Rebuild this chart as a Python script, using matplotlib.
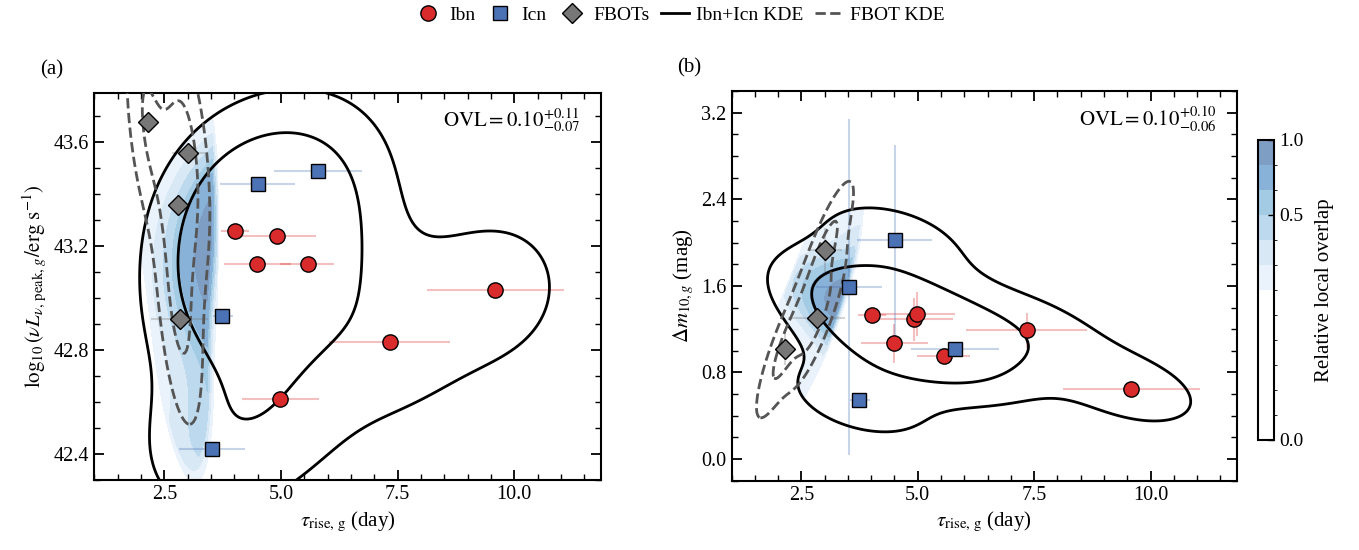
import numpy as np
import matplotlib
matplotlib.use("Agg")
import matplotlib.pyplot as plt
from matplotlib.colors import ListedColormap, BoundaryNorm
from matplotlib.lines import Line2D
from matplotlib.ticker import MultipleLocator

plt.rcParams['font.family'] = ['Liberation Serif', 'DejaVu Serif']
plt.rcParams['mathtext.fontset'] = 'stix'
plt.rcParams['font.size'] = 14

# ---- data ----
# Ibn
ibn_tau = [4.01, 4.92, 4.49, 5.57, 9.58, 7.34, 4.99]
ibn_tau_lo = [0.29, 0.81, 0.71, 0.58, 1.45, 1.30, 0.83]
ibn_tau_hi = [0.30, 0.84, 0.72, 0.56, 1.48, 1.29, 0.82]
ibn_lum = [43.26, 43.24, 43.13, 43.13, 43.03, 42.83, 42.61]
ibn_dm = [1.33, 1.29, 1.07, 0.95, 0.65, 1.19, 1.34]
ibn_dm_err = [0.05, 0.20, 0.18, 0.05, 0.03, 0.16, 0.20]

# Icn
icn_tau = [4.51, 5.79, 3.74, 3.52]
icn_tau_lo = [0.82, 0.93, 0.20, 0.71]
icn_tau_hi = [0.80, 0.95, 0.23, 0.72]
icn_lum = [43.44, 43.49, 42.93, 42.42]
icn_dm = [2.02, 1.02, 0.55, 1.59]
icn_dm_err = [0.88, 0.05, 0.03, 1.55]

# FBOTs (one object has no delta m10)
fbot_tau = [2.15, 3.00, 2.79, 2.83]
fbot_tau_lo = [0.05, 0.33, 0.10, 0.61]
fbot_tau_hi = [0.05, 0.37, 0.10, 0.60]
fbot_lum = [43.68, 43.56, 43.36, 42.92]
fbot_dm = [1.02, 1.93, np.nan, 1.30]
fbot_dm_err = [0.15, 0.20, np.nan, 0.10]

ovl_text = [r'$\mathrm{OVL} = 0.10^{+0.11}_{-0.07}$',
            r'$\mathrm{OVL} = 0.10^{+0.10}_{-0.06}$']
kde_fracs = [0.865, 0.5]   # enclosed probability of the two contours

# overlap colour levels and colours
ov_levels = [0, 0.033, 0.067, 0.1, 0.133, 0.167, 0.2, 0.3, 0.4, 0.5, 0.6, 0.8, 1.0]
ov_colors = [(1, 1, 1, 0)] * 6 + ['#eaf3fb', '#d8e8f4', '#bdd9ee', '#a3cbe4',
                                  '#89b2d8', '#7f9ec4']

RED = '#d92b2b'
BLUE = '#4a72b5'
GRAY = '#777777'


def kde2d(x, y, X, Y, adjust=1.0):
    # gaussian kde with Scott's rule and full covariance
    x = np.asarray(x, float)
    y = np.asarray(y, float)
    n = len(x)
    cov = np.cov(np.vstack([x, y])) * (n ** (-1 / 6) * adjust) ** 2
    inv = np.linalg.inv(cov)
    dens = np.zeros_like(X)
    for xi, yi in zip(x, y):
        dx = X - xi
        dy = Y - yi
        q = inv[0, 0] * dx * dx + 2 * inv[0, 1] * dx * dy + inv[1, 1] * dy * dy
        dens += np.exp(-0.5 * q)
    dens /= n * 2 * np.pi * np.sqrt(np.linalg.det(cov))
    return dens, cov


def hpd_levels(dens, fracs):
    d = np.sort(dens.ravel())[::-1]
    c = np.cumsum(d)
    c /= c[-1]
    return sorted(d[np.searchsorted(c, f)] for f in fracs)


fig = plt.figure(figsize=(13.59, 5.5), dpi=100)
ax1 = fig.add_axes([0.0694, 0.1273, 0.3725, 0.7036])
ax2 = fig.add_axes([0.5383, 0.1260, 0.3717, 0.7085])
cax = fig.add_axes([0.9259, 0.2000, 0.0118, 0.5455])

cmap = ListedColormap(ov_colors)
norm = BoundaryNorm(ov_levels, cmap.N)

panels = [
    (ax1, ibn_lum, icn_lum, fbot_lum, None, None, None, (41.0, 45.0)),
    (ax2, ibn_dm, icn_dm, fbot_dm, ibn_dm_err, icn_dm_err, fbot_dm_err, (-2.0, 5.0)),
]

cf = None
for i, (ax, iy, cy, fy, iye, cye, fye, yr) in enumerate(panels):
    gx = np.linspace(-4, 18, 600)
    gy = np.linspace(yr[0], yr[1], 500)
    X, Y = np.meshgrid(gx, gy)

    sn_x = np.array(ibn_tau + icn_tau)
    sn_y = np.array(list(iy) + list(cy))
    fb_x = np.array(fbot_tau)
    fb_y = np.array(fy, float)
    ok = ~np.isnan(fb_y)
    fb_x, fb_y = fb_x[ok], fb_y[ok]

    d_sn, _ = kde2d(sn_x, sn_y, X, Y)
    d_fb, cov_fb = kde2d(fb_x, fb_y, X, Y)

    # overlap only evaluated around the FBOT sample
    sx, sy = np.sqrt(np.diag(cov_fb))
    box = ((X >= fb_x.min() - 2.5 * sx) & (X <= fb_x.max() + 2.2 * sx) &
           (Y >= fb_y.min() - 2.5 * sy) & (Y <= fb_y.max() + 2.0 * sy))
    ov = np.where(box, np.minimum(d_sn, d_fb), 0.0)
    ov /= ov.max()

    cf = ax.contourf(X, Y, ov, levels=ov_levels, cmap=cmap, norm=norm, zorder=0)
    ax.contour(X, Y, d_sn, levels=hpd_levels(d_sn, kde_fracs), colors='k',
               linewidths=2, zorder=3)
    ax.contour(X, Y, d_fb, levels=hpd_levels(d_fb, kde_fracs), colors='#555555',
               linewidths=2, linestyles='--', zorder=3)

    ax.errorbar(ibn_tau, iy, xerr=[ibn_tau_lo, ibn_tau_hi], yerr=iye, fmt='none',
                ecolor=RED, alpha=0.3, elinewidth=1.5, capsize=0, zorder=2)
    ax.errorbar(icn_tau, cy, xerr=[icn_tau_lo, icn_tau_hi], yerr=cye, fmt='none',
                ecolor=BLUE, alpha=0.3, elinewidth=1.5, capsize=0, zorder=2)
    ax.errorbar(fbot_tau, fy, xerr=[fbot_tau_lo, fbot_tau_hi], yerr=fye, fmt='none',
                ecolor=GRAY, alpha=0.3, elinewidth=1.5, capsize=0, zorder=2)

    ax.plot(ibn_tau, iy, 'o', ms=11, mfc=RED, mec='k', mew=1, ls='none', zorder=5)
    ax.plot(icn_tau, cy, 's', ms=10.5, mfc=BLUE, mec='k', mew=1, ls='none', zorder=5)
    ax.plot(fbot_tau, fy, 'D', ms=10.5, mfc=GRAY, mec='k', mew=1, ls='none', zorder=5)

    ax.set_xlim(1.0, 11.85)
    ax.xaxis.set_major_locator(MultipleLocator(2.5))
    ax.xaxis.set_minor_locator(MultipleLocator(0.5))
    ax.set_xlabel(r'$\tau_{\mathrm{rise,\,g}}$ (day)', fontsize=15)
    ax.tick_params(which='both', direction='in', top=True, right=True, labelsize=14.5)
    ax.tick_params(which='major', length=7, width=1.3)
    ax.tick_params(which='minor', length=4, width=1.0)
    for s in ax.spines.values():
        s.set_linewidth(1.5)
    ax.text(0.96, 0.965, ovl_text[i], transform=ax.transAxes, ha='right',
            va='top', fontsize=15)
    ax.text(-0.107, 1.06, '(a)' if i == 0 else '(b)', transform=ax.transAxes,
            ha='left', va='center', fontsize=15)

ax1.set_ylim(42.30, 43.79)
ax1.yaxis.set_major_locator(MultipleLocator(0.4))
ax1.yaxis.set_minor_locator(MultipleLocator(0.1))
ax1.set_ylabel(r'$\log_{10}(\nu L_{\nu,\,\mathrm{peak},\,g}/\mathrm{erg\ s^{-1}})$',
               fontsize=15)

ax2.set_ylim(-0.2, 3.4)
ax2.yaxis.set_major_locator(MultipleLocator(0.8))
ax2.yaxis.set_minor_locator(MultipleLocator(0.2))
ax2.set_ylabel(r'$\Delta m_{10,g}$ (mag)', fontsize=15)

cb = fig.colorbar(cf, cax=cax)
cb.set_ticks([0.0, 0.5, 1.0])
cb.set_ticklabels(['0.0', '0.5', '1.0'])
cb.ax.tick_params(direction='in', length=4, width=1, labelsize=14)
cb.outline.set_linewidth(1.5)
cb.set_label('Relative local overlap', fontsize=15, labelpad=8)

handles = [
    Line2D([], [], marker='o', ls='none', ms=11, mfc=RED, mec='k', mew=1),
    Line2D([], [], marker='s', ls='none', ms=10.5, mfc=BLUE, mec='k', mew=1),
    Line2D([], [], marker='D', ls='none', ms=10.5, mfc=GRAY, mec='k', mew=1),
    Line2D([], [], color='k', lw=2),
    Line2D([], [], color='#555555', lw=2, ls='--'),
]
labels = ['Ibn', 'Icn', 'FBOTs', 'Ibn+Icn KDE', 'FBOT KDE']
fig.legend(handles, labels, loc='center', bbox_to_anchor=(0.5, 0.972), ncol=5,
           frameon=False, fontsize=14, handlelength=1.4, handletextpad=0.4,
           columnspacing=0.6)

fig.savefig('out.png', dpi=100)
